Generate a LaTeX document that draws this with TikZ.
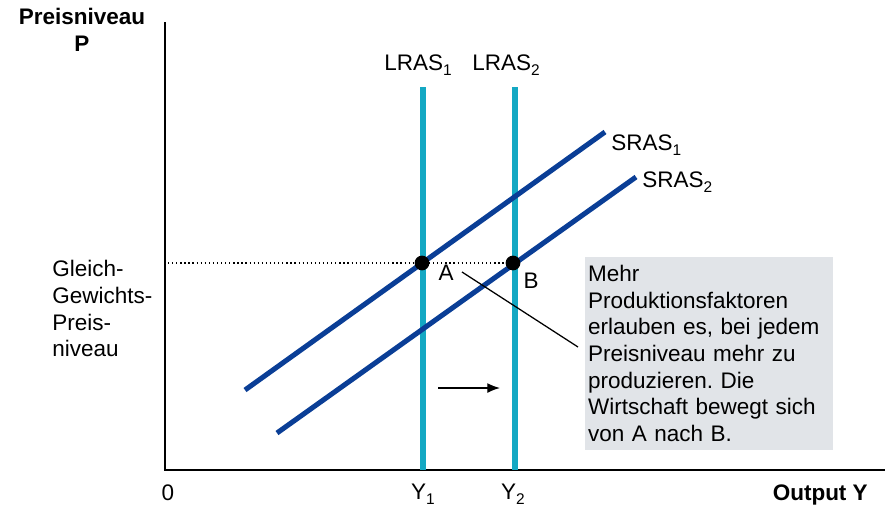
\documentclass[tikz,border=0pt]{standalone}
\usepackage{fontspec}
\setmainfont{Liberation Sans}
\usepackage{tikz}
\usetikzlibrary{arrows.meta}
\definecolor{lrascol}{RGB}{20,168,195}
\definecolor{srascol}{RGB}{10,62,150}
\definecolor{boxgray}{RGB}{225,228,232}
\newcommand{\tief}[1]{\raisebox{-0.45ex}{\fontsize{11}{12}\selectfont #1}}
\frenchspacing

\begin{document}
\begin{tikzpicture}[x=0.025cm, y=-0.025cm,
	every node/.style={font=\fontsize{16}{19}\selectfont, inner sep=0pt},
	lras/.style={line width=3.6pt, lrascol},
	sras/.style={line width=3.6pt, srascol},
	punkt/.style={circle, fill=black, minimum size=10.5pt}]
	\useasboundingbox (0,0) rectangle (885,508);
	% Achsen
	\coordinate (origin) at (165,470);
	\coordinate (ytop) at (165,22);
	\coordinate (xend) at (885,470);
	\draw[thick] (ytop) -- (origin) -- (xend);
	\node[font=\fontsize{16}{19}\selectfont\bfseries, align=center, anchor=north] (ptitle) at (82,8) {Preisniveau\\P};
	\node[font=\fontsize{16}{19}\selectfont\bfseries, anchor=base east] (otitle) at (868,500) {Output Y};
	\node[anchor=base] (null) at (168,500) {0};
	\node[align=left, anchor=north west] (gleich) at (52,260) {Gleich-\\Gewichts-\\Preis-\\niveau};
	% gray box
	\node[fill=boxgray, align=left, anchor=north west, text width=172pt, inner xsep=2pt, inner ysep=4pt, minimum height=193*0.709pt] (info) at (585,257) {Mehr\\Produktionsfaktoren\\erlauben es, bei jedem\\Preisniveau mehr zu\\produzieren. Die\\Wirtschaft bewegt sich\\von A nach B.};
	% LRAS
	\coordinate (l1top) at (423,87);
	\coordinate (l1bot) at (423,470);
	\coordinate (l2top) at (515,87);
	\coordinate (l2bot) at (515,470);
	\draw[lras] (l1top) -- (l1bot);
	\draw[lras] (l2top) -- (l2bot);
	\node[anchor=base] (lras1) at (418,70) {LRAS\tief{1}};
	\node[anchor=base] (lras2) at (506,70) {LRAS\tief{2}};
	\node[anchor=base] (y1) at (423,499) {Y\tief{1}};
	\node[anchor=base] (y2) at (513,499) {Y\tief{2}};
	% SRAS
	\coordinate (s1a) at (245,390);
	\coordinate (s1b) at (605,132);
	\coordinate (s2a) at (277,433);
	\coordinate (s2b) at (636,177);
	\draw[sras] (s1a) -- (s1b);
	\draw[sras] (s2a) -- (s2b);
	\node[anchor=base west] (sras1) at (611,150) {SRAS\tief{1}};
	\node[anchor=base west] (sras2) at (642,187) {SRAS\tief{2}};
	% Gleichgewichte
	\coordinate (pleft) at (168,263);
	\node[punkt] (dotA) at (422,263) {};
	\node[punkt] (dotB) at (513,263) {};
	\draw[dotted, line width=0.9pt] (pleft) -- (dotB);
	\node[anchor=base] (labA) at (446,280) {A};
	\node[anchor=base] (labB) at (531,288) {B};
	\coordinate (call) at (462,272);
	\coordinate (callend) at (578,347);
	\draw[line width=0.9pt] (call) -- (callend);
	\coordinate (arra) at (438,388);
	\coordinate (arrb) at (500,388);
	\draw[-{Latex[length=9pt,width=7pt]}, line width=0.9pt] (arra) -- (arrb);
\end{tikzpicture}
\end{document}
